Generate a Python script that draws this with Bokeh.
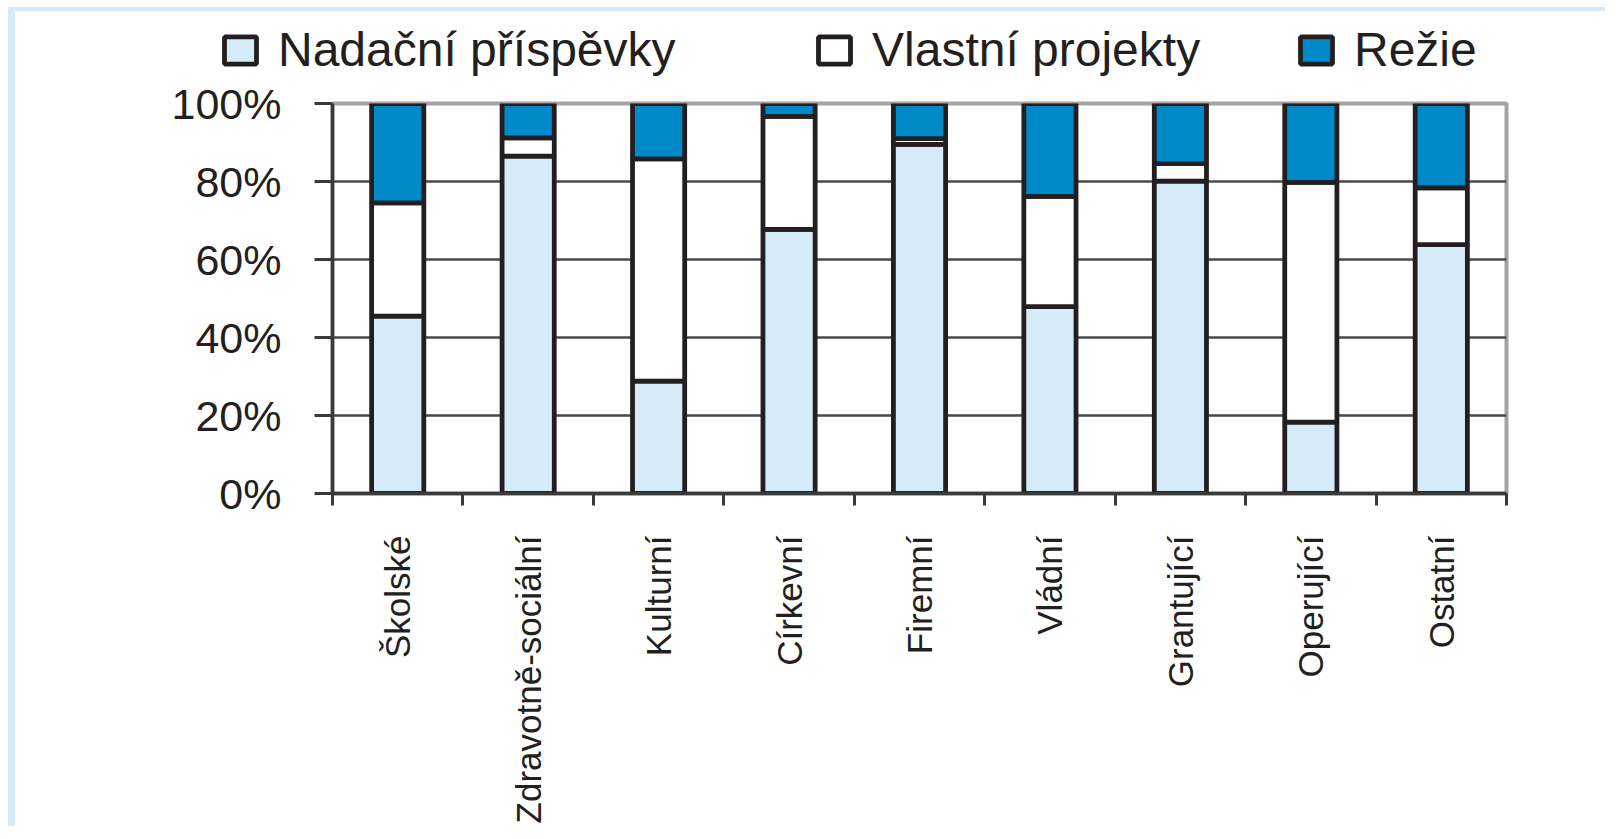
from bokeh.plotting import figure
from bokeh.layouts import column
from bokeh.models import (FixedTicker, PrintfTickFormatter, Legend, LegendItem,
                          Range1d, ColumnDataSource, CustomJSTickFormatter)
from bokeh.embed import file_html
from bokeh.resources import INLINE
from math import pi

# ---- data ----
categories = ["Školské", "Zdravotně-sociální", "Kulturní", "Církevní", "Firemní",
              "Vládní", "Grantující", "Operující", "Ostatní"]
nadacni = [45.5, 86.5, 28.8, 67.7, 89.5, 47.9, 80.1, 18.3, 63.8]
vlastni = [29.0, 4.7, 57.0, 29.0, 1.5, 28.3, 4.5, 61.5, 14.6]
rezie = [25.5, 8.8, 14.2, 3.3, 9.0, 23.8, 15.4, 20.2, 21.6]
series_names = ["Nadační příspěvky", "Vlastní projekty", "Režie"]
y_ticks = [0, 20, 40, 60, 80, 100]

colors = ["#d5ebf8", "#ffffff", "#0089c8"]
ink = "#231f20"
FONT = "Liberation Sans"

n = len(categories)
pos = [i + 0.5 for i in range(n)]
src = ColumnDataSource(dict(x=pos, nad=nadacni, vla=vlastni, rez=rezie))

W = 1590
LEG_H = 66
H = 749
BAR_W = 0.40

# ---------- main chart ----------
p = figure(width=W, height=H, output_backend="svg", toolbar_location=None,
           x_range=Range1d(0, n), y_range=Range1d(0, 100),
           min_border_left=317, min_border_right=99,
           min_border_top=26, min_border_bottom=333,
           background_fill_color="white", border_fill_color="white")

renderers = p.vbar_stack(["nad", "vla", "rez"], x="x", width=BAR_W, source=src,
                         fill_color=colors, line_color=ink, line_width=4.8)

p.outline_line_color = "#a3a3a3"
p.outline_line_width = 4
p.xgrid.visible = False
p.ygrid.ticker = FixedTicker(ticks=y_ticks[1:-1])
p.ygrid.grid_line_color = "#4a4a4a"
p.ygrid.grid_line_width = 2.5

ya = p.yaxis[0]
ya.ticker = FixedTicker(ticks=y_ticks)
ya.formatter = PrintfTickFormatter(format="%d%%")
ya.axis_line_color = "#3a3a3a"
ya.axis_line_width = 3.5
ya.major_tick_line_color = "#3a3a3a"
ya.major_tick_line_width = 3
ya.major_tick_out = 18
ya.major_tick_in = 0
ya.minor_tick_line_color = None
ya.major_label_standoff = 33
ya.major_label_text_font = FONT
ya.major_label_text_font_size = "43px"
ya.major_label_text_color = ink

xa = p.xaxis[0]
xa.ticker = FixedTicker(ticks=pos, minor_ticks=list(range(n + 1)))
xa.formatter = CustomJSTickFormatter(args=dict(cats=categories),
                                     code="return cats[Math.floor(tick)] || '';")
xa.axis_line_color = "#3a3a3a"
xa.axis_line_width = 3.5
xa.major_tick_line_color = None
xa.major_tick_out = 0
xa.major_tick_in = 0
xa.minor_tick_line_color = "#3a3a3a"
xa.minor_tick_line_width = 3
xa.minor_tick_out = 12
xa.minor_tick_in = 0
xa.major_label_orientation = pi / 2
xa.major_label_standoff = 30
xa.major_label_text_font = FONT
xa.major_label_text_font_size = "35px"
xa.major_label_text_color = ink

# ---------- legend strip on top ----------
lf = figure(width=W, height=LEG_H, output_backend="svg", toolbar_location=None,
            x_range=Range1d(0, n), y_range=Range1d(0, 100),
            x_axis_type=None, y_axis_type=None,
            min_border_left=0, min_border_right=0, min_border_top=0, min_border_bottom=0,
            background_fill_color="white", border_fill_color="white")
lf.frame_align = False
lf.grid.visible = False
lf.outline_line_color = None

leg_x = [205, 799, 1281]
for name, col, vals, lx in zip(series_names, colors, [nadacni, vlastni, rezie], leg_x):
    # invisible proxy renderer, only used to draw the legend swatch
    r = lf.vbar(x=pos, top=vals, width=BAR_W, fill_color=col, line_color=ink,
                line_width=4.8, visible=False)
    lg = Legend(items=[LegendItem(label=name, renderers=[r])],
                location=(lx, 0), orientation="horizontal",
                glyph_width=40, glyph_height=34, label_standoff=18,
                padding=0, margin=0, spacing=0, click_policy="none",
                background_fill_alpha=0, border_line_color=None,
                label_text_font=FONT, label_text_font_size="48px",
                label_text_color=ink)
    lf.add_layout(lg, "center")

layout = column(lf, p, spacing=0)
layout.styles = {"border-left": "7px solid #d4eaf6", "border-top": "4px solid #d4eaf6",
                 "transform": "translate(8px, 7px)"}

open("out.html", "w").write(file_html(layout, INLINE))
